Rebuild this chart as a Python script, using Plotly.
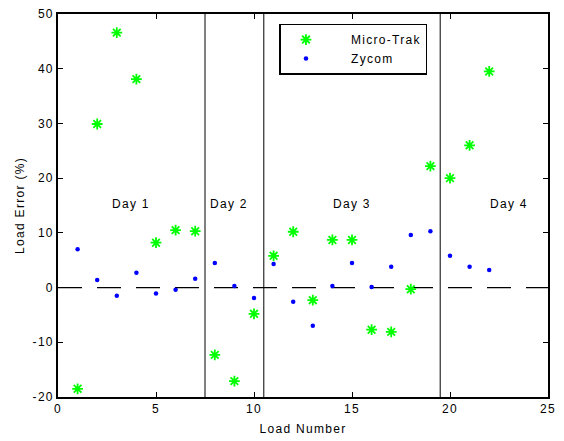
import plotly.graph_objects as go

load_number = list(range(1, 23))
micro_trak = [-18.5, 29.9, 46.6, 38.1, 8.2, 10.5, 10.3, -12.3, -17.1, -4.8, 5.8,
              10.2, -2.3, 8.7, 8.7, -7.7, -8.1, -0.3, 22.2, 20.0, 26.0, 39.5]
zycom = [7.0, 1.4, -1.5, 2.7, -1.1, -0.4, 1.6, 4.5, 0.3, -1.9, 4.3,
         -2.6, -7.0, 0.3, 4.5, 0.1, 3.8, 9.6, 10.3, 5.8, 3.8, 3.2]
day_boundaries = [7.5, 10.5, 19.5]
day_labels = ["Day 1", "Day 2", "Day 3", "Day 4"]
day_label_x = [3.7, 8.7, 15.0, 23.0]
day_label_y = 15.2
x_ticks = [0, 5, 10, 15, 20, 25]
y_ticks = [-20, -10, 0, 10, 20, 30, 40, 50]

font = "Liberation Sans, Arial, sans-serif"


def sp(t):
    return '<span style="letter-spacing:1.3px">' + t + '</span>'


fig = go.Figure()

# zero reference dashed line
fig.add_trace(go.Scatter(x=[0, 25], y=[0, 0], mode="lines",
                         line=dict(color="black", width=1.2, dash="24px,15px"),
                         showlegend=False, hoverinfo="skip"))

for xb in day_boundaries:
    fig.add_trace(go.Scatter(x=[xb, xb], y=[-20, 50], mode="lines",
                             line=dict(color="black", width=1),
                             showlegend=False, hoverinfo="skip"))

fig.add_trace(go.Scatter(x=load_number, y=micro_trak, mode="markers",
                         name="\u00a0" * 6 + sp("Micro-Trak"),
                         marker=dict(symbol="asterisk-open", size=9, color="#00ff00",
                                     line=dict(color="#00ff00", width=1.8))))
fig.add_trace(go.Scatter(x=load_number, y=zycom, mode="markers",
                         name="\u00a0" * 6 + sp("Zycom"),
                         marker=dict(symbol="circle", size=4.5, color="#0000ff")))

for lbl, lx in zip(day_labels, day_label_x):
    fig.add_annotation(x=lx, y=day_label_y, text=sp(lbl), showarrow=False,
                       font=dict(family=font, size=12, color="black"))

axis_common = dict(showline=True, linecolor="black", linewidth=1.5, mirror="ticks",
                   ticks="inside", ticklen=5, tickcolor="black", showgrid=False,
                   zeroline=False, automargin=False,
                   tickfont=dict(family=font, size=12, color="black"))

fig.update_xaxes(range=[0, 25], tickvals=x_ticks, ticktext=[sp(str(v)) for v in x_ticks],
                 title=dict(text=sp("Load Number"), font=dict(family=font, size=12), standoff=9),
                 **axis_common)
fig.update_yaxes(range=[-20, 50], tickvals=y_ticks, ticktext=[sp(str(v)) for v in y_ticks],
                 title=dict(text=sp("Load Error (%)"), font=dict(family=font, size=12)),
                 **axis_common)

fig.update_layout(
    template="none",
    width=564, height=441,
    margin=dict(l=58, r=16, t=14, b=44),
    paper_bgcolor="white", plot_bgcolor="white",
    font=dict(family=font, size=12, color="black"),
    legend=dict(x=0.452, y=0.975, xanchor="left", yanchor="top",
                bordercolor="black", borderwidth=1.5, bgcolor="white",
                font=dict(family=font, size=12), itemwidth=40,
                tracegroupgap=0),
)

fig.write_html("out.html")
